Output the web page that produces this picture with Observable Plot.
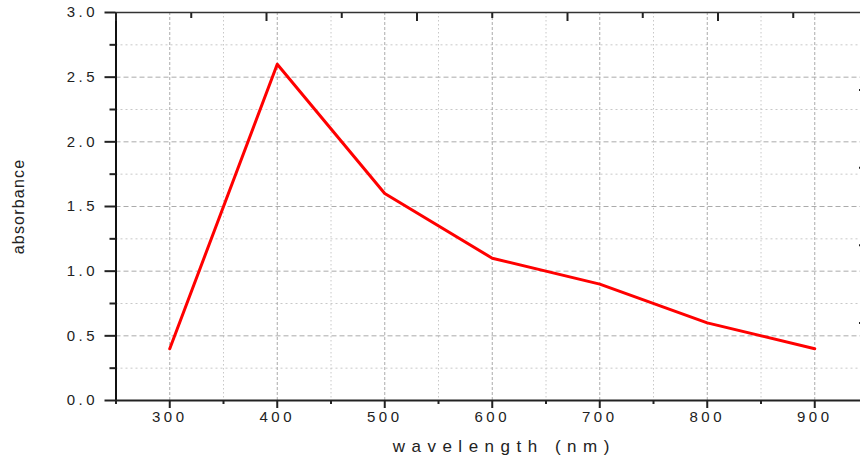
<!DOCTYPE html>
<html><head><meta charset="utf-8">
<script src="https://cdn.jsdelivr.net/npm/d3@7"></script>
<script src="https://cdn.jsdelivr.net/npm/@observablehq/plot@0.6"></script>
<style>
html,body{margin:0;padding:0;background:#fff;overflow:hidden;}
#chart svg{font-family:"Liberation Sans",Arial,sans-serif;}
</style></head><body><div id="chart"></div>
<script>
const wavelength = [300, 400, 500, 600, 700, 800, 900];
const absorbance = [0.4, 2.6, 1.6, 1.1, 0.9, 0.6, 0.4];
const xTicks = [300, 400, 500, 600, 700, 800, 900];
const xMinorTicks = [250, 350, 450, 550, 650, 750, 850];
const yTicks = [0, 0.5, 1.0, 1.5, 2.0, 2.5, 3.0];
const yMinorTicks = [0.25, 0.75, 1.25, 1.75, 2.25, 2.75];
const topMajorTicks = [250, 390, 530, 670, 810, 950];
const topMinorTicks = [320, 460, 600, 740, 880];
const rightTicks = [0.6, 1.2, 1.8, 2.4];
const xDomain = [250, 950];
const yDomain = [0, 3];
const xTitle = "wavelength (nm)";
const yTitle = "absorbance";

const data = wavelength.map((w, i) => ({w, a: absorbance[i]}));
const blank = () => "";

const chart = Plot.plot({
  width: 860, height: 465,
  marginLeft: 115.5, marginRight: -8, marginTop: 12, marginBottom: 65,
  x: {domain: xDomain, label: null},
  y: {domain: yDomain, label: null},
  style: {fontFamily: '"Liberation Sans", Arial, sans-serif', color: "#222", background: "#fff"},
  marks: [
    Plot.ruleY(yMinorTicks, {stroke: "#c8c8c8", strokeDasharray: "2,3"}),
    Plot.ruleX(xMinorTicks.filter(d => d > xDomain[0]), {stroke: "#c8c8c8", strokeDasharray: "1.5,2.5"}),
    Plot.ruleY(yTicks.filter(d => d > yDomain[0] && d < yDomain[1]), {stroke: "#ababab", strokeDasharray: "5,3"}),
    Plot.ruleX(xTicks, {stroke: "#ababab", strokeDasharray: "3,2"}),
    Plot.line(data, {x: "w", y: "a", stroke: "#ff0000", strokeWidth: 3}),
    Plot.ruleX([xDomain[0]], {stroke: "#111", strokeWidth: 2}),
    Plot.ruleX([xDomain[1]], {stroke: "#333", strokeWidth: 1.5}),
    Plot.ruleY([yDomain[0]], {stroke: "#222", strokeWidth: 2}),
    Plot.ruleY([yDomain[1]], {stroke: "#333", strokeWidth: 1.5}),
    Plot.axisX(xTicks, {anchor: "bottom", tickSize: 8, strokeWidth: 2, tickFormat: blank, label: null}),
    Plot.axisX(xMinorTicks, {anchor: "bottom", tickSize: 4, strokeWidth: 2, tickFormat: blank, label: null}),
    Plot.axisY(yTicks, {anchor: "left", tickSize: 11, strokeWidth: 2, tickFormat: blank, label: null}),
    Plot.axisY(yMinorTicks, {anchor: "left", tickSize: 6, strokeWidth: 2, tickFormat: blank, label: null}),
    Plot.axisX(topMajorTicks, {anchor: "top", tickSize: 8, dy: 8, strokeWidth: 2, tickFormat: blank, label: null}),
    Plot.axisX(topMinorTicks, {anchor: "top", tickSize: 5, dy: 5, strokeWidth: 2, tickFormat: blank, label: null}),
    Plot.axisY(rightTicks, {anchor: "right", tickSize: 10, dx: -10, strokeWidth: 2, tickFormat: blank, label: null}),
    Plot.text(xTicks, {x: d => d, frameAnchor: "bottom", dy: 21, text: d => String(d), fontSize: 15, fill: "#222"}),
    Plot.text(yTicks, {y: d => d, frameAnchor: "left", dx: -18, textAnchor: "end", text: d => d.toFixed(1), fontSize: 15, fill: "#222"}),
    Plot.text([xTitle], {frameAnchor: "bottom", dx: 12, dy: 51, fontSize: 17, fill: "#222"}),
    Plot.text([yTitle], {frameAnchor: "left", textAnchor: "middle", dx: -97, rotate: -90, fontSize: 16, fill: "#222"})
  ]
});
d3.select(chart).selectAll("text").each(function() {
  const t = this.textContent;
  if (/^\d+(\.\d)?$/.test(t)) this.setAttribute("letter-spacing", "3.5px");
  else if (t === xTitle) this.setAttribute("letter-spacing", "6.5px");
  else if (t === yTitle) this.setAttribute("letter-spacing", "1.2px");
});
document.getElementById("chart").appendChild(chart);
</script>
</body></html>
